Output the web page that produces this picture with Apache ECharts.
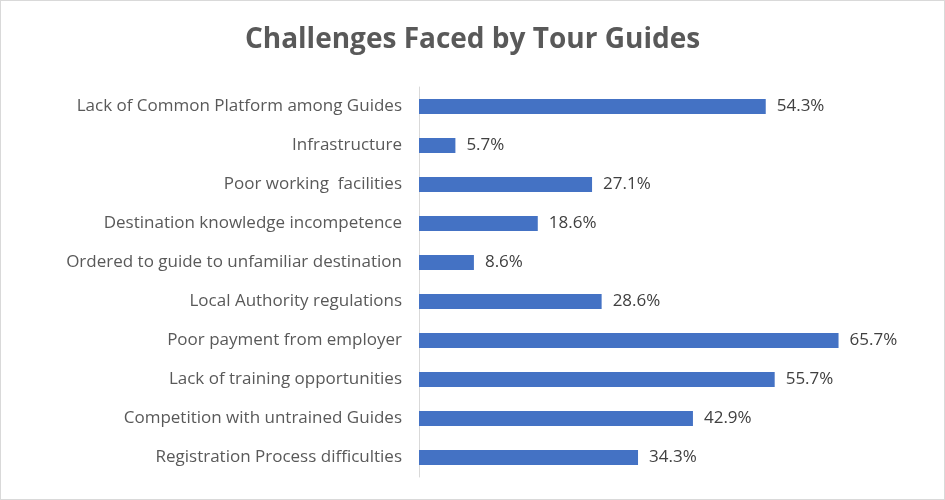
<!DOCTYPE html>
<html><head><meta charset="utf-8">
<script src="https://cdn.jsdelivr.net/npm/echarts@6/dist/echarts.min.js"></script>
<style>html,body{margin:0;padding:0;background:#fff}#c{width:945px;height:500px;box-sizing:border-box;border:1px solid #d9d9d9}</style>
</head><body><div id="c"></div>
<script>
const categories = [
  "Lack of Common Platform among Guides",
  "Infrastructure",
  "Poor working  facilities",
  "Destination knowledge incompetence",
  "Ordered to guide to unfamiliar destination",
  "Local Authority regulations",
  "Poor payment from employer",
  "Lack of training opportunities",
  "Competition with untrained Guides",
  "Registration Process difficulties"
];
const values = [54.3, 5.7, 27.1, 18.6, 8.6, 28.6, 65.7, 55.7, 42.9, 34.3];
const chart = echarts.init(document.getElementById('c'));
chart.setOption({
  animation: false,
  title: {
    text: 'Challenges Faced by Tour Guides',
    left: 'center', top: 20,
    textStyle: {fontFamily: 'Open Sans', fontWeight: 'bold', fontSize: 28, color: '#595959'}
  },
  grid: {left: 418, right: 78, top: 86, bottom: 22},
  xAxis: {type: 'value', min: 0, max: 70, show: false},
  yAxis: {
    type: 'category', inverse: true, data: categories,
    axisLine: {lineStyle: {color: '#d9d9d9', width: 1}},
    axisTick: {show: false},
    axisLabel: {margin: 17, fontFamily: 'Open Sans', fontSize: 17, color: '#595959'}
  },
  series: [{
    type: 'bar', data: values, barWidth: '39%',
    itemStyle: {color: '#4472c4'},
    label: {show: true, position: 'right', distance: 11, formatter: p => p.value.toFixed(1) + '%',
      fontFamily: 'Open Sans', fontSize: 17, color: '#404040'}
  }]
});
</script></body></html>
